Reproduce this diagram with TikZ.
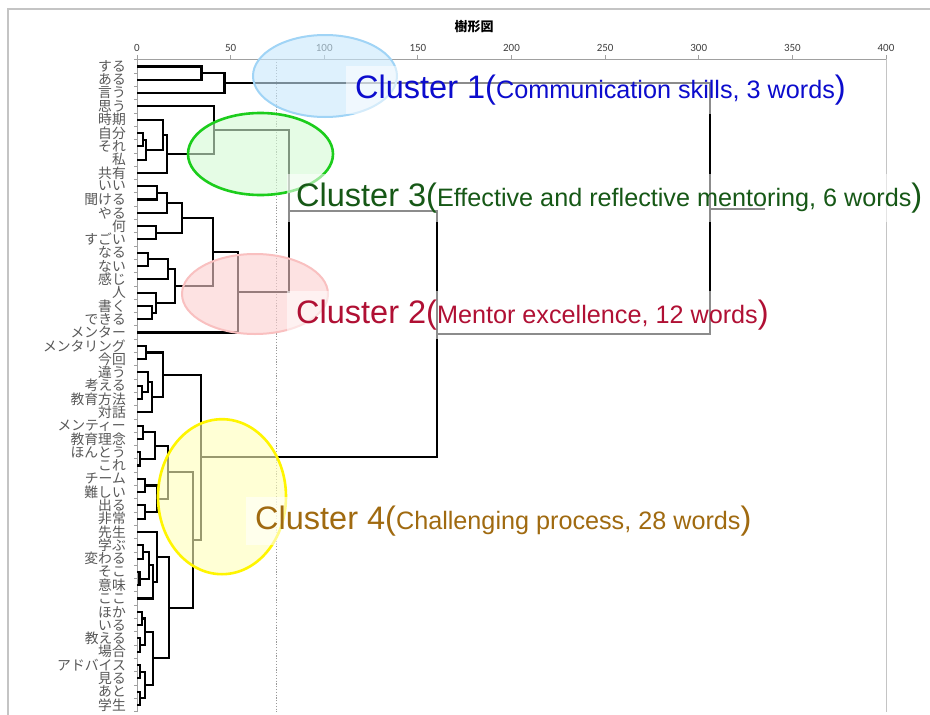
\documentclass[tikz,border=0pt]{standalone}
\usepackage{fontspec}
\setmainfont{Liberation Sans}
\newfontfamily\jpfont{Noto Sans CJK JP}
\newfontfamily\tickfont{Carlito}
\usetikzlibrary{calc,shapes.geometric}

\definecolor{framegray}{RGB}{196,196,196}
\definecolor{axisgray}{RGB}{160,160,160}
\definecolor{wordgray}{RGB}{88,88,88}
\definecolor{cone}{RGB}{12,12,205}
\definecolor{ctwo}{RGB}{176,16,52}
\definecolor{cthree}{RGB}{22,88,22}
\definecolor{cfour}{RGB}{160,106,16}

\newcommand\clbig{\fontsize{32.5}{35}\selectfont}
\newcommand\clsmall{\fontsize{25.2}{28}\selectfont}

% join two children (#3,#4) at horizontal position #2, new point is #1
\newcommand\dendjoin[4]{%
  \path let \p1=($(#3)!0.5!(#4)$) in (#2pt,\y1) coordinate (#1);
  \draw[dend] (#3) -| (#1) |- (#4);}

\tikzset{
  dend/.style={line width=2.1pt, black, line join=miter},
  axisline/.style={axisgray, line width=0.9pt},
  leafword/.style={font=\jpfont\fontsize{13.8}{14}\selectfont, text=wordgray, anchor=east, inner sep=0pt},
  ticklabel/.style={font=\tickfont\fontsize{11}{12}\selectfont, text=black!75, anchor=base, inner sep=0pt},
  ring/.style={ellipse, inner sep=0pt, fill opacity=0.6},
  clusterlabel/.style={anchor=base west, fill=white, fill opacity=0.55, text opacity=1,
    inner xsep=9pt, inner ysep=9pt},
}

\begin{document}
\begin{tikzpicture}[x=1pt, y=-1pt]
\useasboundingbox (0,0) rectangle (930,715);
\fill[white] (0,0) rectangle (930,715);

% outer frame
\draw[framegray, line width=1.6pt] (8,715) -- (8,9) -- (930,9);

% title
\node[font=\jpfont\bfseries\fontsize{13}{14}\selectfont] (title) at (474,27) {樹形図};

% axes
\draw[axisline] (137,712) -- (137,59) -- (886,59);
\draw[framegray, line width=0.9pt] (886,59) -- (886,712);
\foreach \v in {0,50,...,400} {
  \draw[axisline] ({137+1.8725*\v},55) -- ({137+1.8725*\v},59);
  \node[ticklabel] (tick\v) at ({137+1.8725*\v},51) {\v};
}
\foreach \k in {0,...,49}
  \draw[axisline] (134,{59.85+13.3*\k}) -- (137,{59.85+13.3*\k});

% cut level
\draw[gray!80, line width=0.8pt, dash pattern=on 1.2pt off 1.6pt] (276,59) -- (276,712);

% leaves
\foreach \i in {1,...,49}
  \coordinate (L\i) at (137,{66.5+13.3*(\i-1)});

\foreach \w [count=\i] in {する,ある,言う,思う,時期,自分,それ,私,共有,いい,聞ける,やる,何,すごい,なる,ない,感じ,人,書く,できる,メンター,メンタリング,今回,違う,考える,教育方法,対話,メンティー,教育理念,ほんとう,これ,チーム,難しい,出る,非常,先生,学ぶ,変わる,そこ,意味,ここ,ほか,いる,教える,場合,アドバイス,見る,あと,学生}
  \node[leafword] (w\i) at ($(L\i)+(-11,0)$) {\w};

% group 1
\dendjoin{M1}{201.5}{L1}{L2}
\dendjoin{M2}{224.5}{M1}{L3}
% group 3
\dendjoin{M3}{143.3}{L6}{L7}
\dendjoin{M4}{146}{M3}{L8}
\dendjoin{M5}{162.7}{L5}{M4}
\dendjoin{M6}{166.7}{M5}{L9}
\dendjoin{M7}{214.3}{L4}{M6}
% group 2
\dendjoin{N1}{156.7}{L10}{L11}
\dendjoin{N2}{166.7}{N1}{L12}
\dendjoin{N3}{156}{L13}{L14}
\dendjoin{N4}{181.7}{N2}{N3}
\dendjoin{N5}{148.3}{L15}{L16}
\dendjoin{N6}{168.3}{N5}{L17}
\dendjoin{N7}{151.7}{L19}{L20}
\dendjoin{N8}{156}{L18}{N7}
\dendjoin{N9}{175}{N6}{N8}
\dendjoin{N10}{213.3}{N4}{N9}
\dendjoin{N11}{238}{N10}{L21}
\dendjoin{C23}{289}{M7}{N11}
% group 4
\dendjoin{P1}{146}{L22}{L23}
\dendjoin{P2}{141.7}{L25}{L26}
\dendjoin{P3}{148.3}{L24}{P2}
\dendjoin{P4}{151.7}{P3}{L27}
\dendjoin{P5}{163.3}{P1}{P4}
\dendjoin{Q1}{143.3}{L28}{L29}
\dendjoin{Q2}{140}{L30}{L31}
\dendjoin{Q3}{155}{Q1}{Q2}
\dendjoin{Q4}{145}{L32}{L33}
\dendjoin{Q5}{145}{L34}{L35}
\dendjoin{Q6}{156.7}{Q4}{Q5}
\dendjoin{Q7}{168.3}{Q3}{Q6}
\dendjoin{R1}{143.3}{L37}{L38}
\dendjoin{R2}{139.5}{L39}{L40}
\dendjoin{R3}{149}{R1}{R2}
\dendjoin{R4}{153.3}{R3}{L41}
\dendjoin{R5}{156.7}{L36}{R4}
\dendjoin{S1}{141.7}{L42}{L43}
\dendjoin{S2}{140}{L44}{L45}
\dendjoin{S3}{145}{S1}{S2}
\dendjoin{S4}{140}{L46}{L47}
\dendjoin{S5}{140}{L48}{L49}
\dendjoin{S6}{145}{S4}{S5}
\dendjoin{S7}{153.3}{S3}{S6}
\dendjoin{R6}{169.3}{R5}{S7}
\dendjoin{T1}{193.3}{Q7}{R6}
\dendjoin{T2}{200.7}{P5}{T1}
% upper levels
\dendjoin{C234}{437}{C23}{T2}
\dendjoin{root}{710}{M2}{C234}
\path let \p1=(root) in (765pt,\y1) coordinate (rootend);
\draw[dend] (root) -- (rootend);

% cluster rings
\node[ring, draw={rgb,255:red,160;green,212;blue,246}, line width=2pt,
  fill={rgb,255:red,200;green,232;blue,252}, minimum width=144pt, minimum height=82pt] (ring1) at (325,76) {};
\node[ring, draw={rgb,255:red,28;green,205;blue,28}, line width=2.6pt,
  fill={rgb,255:red,212;green,250;blue,212}, minimum width=145pt, minimum height=82pt] (ring3) at (260.5,154) {};
\node[ring, draw={rgb,255:red,249;green,192;blue,192}, line width=2pt,
  fill={rgb,255:red,252;green,208;blue,208}, minimum width=146pt, minimum height=80pt] (ring2) at (255,294) {};
\node[ring, draw={rgb,255:red,255;green,245;blue,0}, line width=2.6pt,
  fill={rgb,255:red,255;green,255;blue,185}, minimum width=128pt, minimum height=155pt] (ring4) at (222,496.7) {};

% cluster labels
\node[clusterlabel, text=cone] (lab1) at (346,98.3)
  {\clbig Cluster 1(\clsmall Communication skills, 3 words\clbig)};
\node[clusterlabel, text=cthree] (lab3) at (287,206.7)
  {\clbig Cluster 3(\clsmall Effective and reflective mentoring, 6 words\clbig)};
\node[clusterlabel, text=ctwo] (lab2) at (287,323.5)
  {\clbig Cluster 2(\clsmall Mentor excellence, 12 words\clbig)};
\node[clusterlabel, text=cfour] (lab4) at (246,529.3)
  {\clbig Cluster 4(\clsmall Challenging process, 28 words\clbig)};
\end{tikzpicture}
\end{document}
